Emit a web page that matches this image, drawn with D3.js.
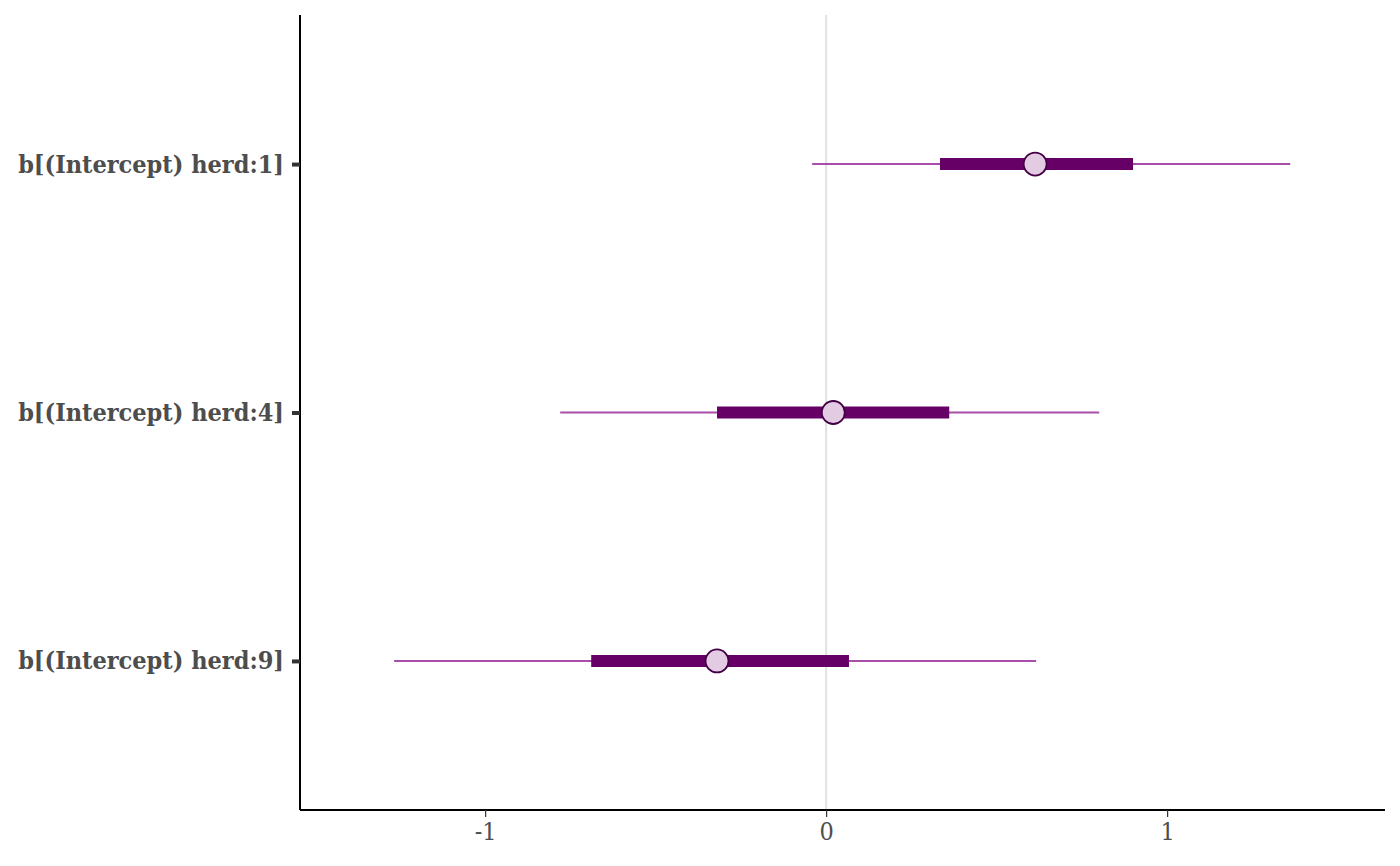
<!DOCTYPE html>
<html><head><meta charset="utf-8">
<script src="https://cdn.jsdelivr.net/npm/d3@7"></script>
<style>body{margin:0;background:#fff}</style>
</head><body>
<svg id="c" width="1400" height="866"></svg>
<script>
const params = ["b[(Intercept) herd:1]", "b[(Intercept) herd:4]", "b[(Intercept) herd:9]"];
const outerLow  = [-0.041, -0.780, -1.267];
const outerHigh = [1.361, 0.801, 0.616];
const innerLow  = [0.334, -0.320, -0.689];
const innerHigh = [0.900, 0.361, 0.067];
const medians   = [0.613, 0.021, -0.320];
const xTicks = [-1, 0, 1];

const svg = d3.select("#c");
const pLeft = 300, pRight = 1385, pTop = 15, pBottom = 810;
const x = d3.scaleLinear().domain([-1.543, 1.639]).range([pLeft, pRight]);
const y = d3.scaleLinear().domain([0.4, 3.6]).range([pTop, pBottom]);
const yPos = i => y(i + 1);
const font = "'DejaVu Serif Condensed', 'DejaVu Serif', serif";

// zero reference line
svg.append("line").attr("x1", x(0)).attr("x2", x(0)).attr("y1", pTop).attr("y2", pBottom)
  .attr("stroke", "#e2e2e2").attr("stroke-width", 2);

const g = svg.append("g");
params.forEach((p, i) => {
  g.append("line").attr("x1", x(outerLow[i])).attr("x2", x(outerHigh[i]))
    .attr("y1", yPos(i)).attr("y2", yPos(i)).attr("stroke", "#a84ea9").attr("stroke-width", 2);
  g.append("line").attr("x1", x(innerLow[i])).attr("x2", x(innerHigh[i]))
    .attr("y1", yPos(i)).attr("y2", yPos(i)).attr("stroke", "#660066").attr("stroke-width", 12);
  g.append("circle").attr("cx", x(medians[i])).attr("cy", yPos(i)).attr("r", 11.5)
    .attr("fill", "#e2cbe3").attr("stroke", "#440044").attr("stroke-width", 1.8);
});

// x axis
const xa = svg.append("g").attr("transform", `translate(0,${pBottom})`)
  .call(d3.axisBottom(x).tickValues(xTicks).tickFormat(d3.format("d")).tickSize(7).tickPadding(5));
xa.select(".domain").attr("stroke", "#000").attr("stroke-width", 2).attr("d", `M${pLeft},0H${pRight}`);
xa.selectAll(".tick line").attr("stroke", "#333").attr("stroke-width", 1.2);
xa.selectAll(".tick text").attr("font-family", font).attr("font-stretch", "condensed")
  .attr("font-size", 25).attr("fill", "#4d4d4d")
  .text(d => d < 0 ? "-" + Math.abs(d) : d);

// y axis
const ya = svg.append("g").attr("transform", `translate(${pLeft},0)`)
  .call(d3.axisLeft(y).tickValues([1, 2, 3]).tickFormat(d => params[d - 1]).tickSize(8).tickPadding(8));
ya.select(".domain").attr("stroke", "#000").attr("stroke-width", 2).attr("d", `M0,${pTop}V${pBottom}`);
ya.selectAll(".tick line").attr("stroke", "#333").attr("stroke-width", 4);
ya.selectAll(".tick text").attr("font-family", font).attr("font-weight", "bold")
  .attr("font-size", 25).attr("fill", "#4d4d4d").attr("font-stretch", "condensed");
</script>
</body></html>
